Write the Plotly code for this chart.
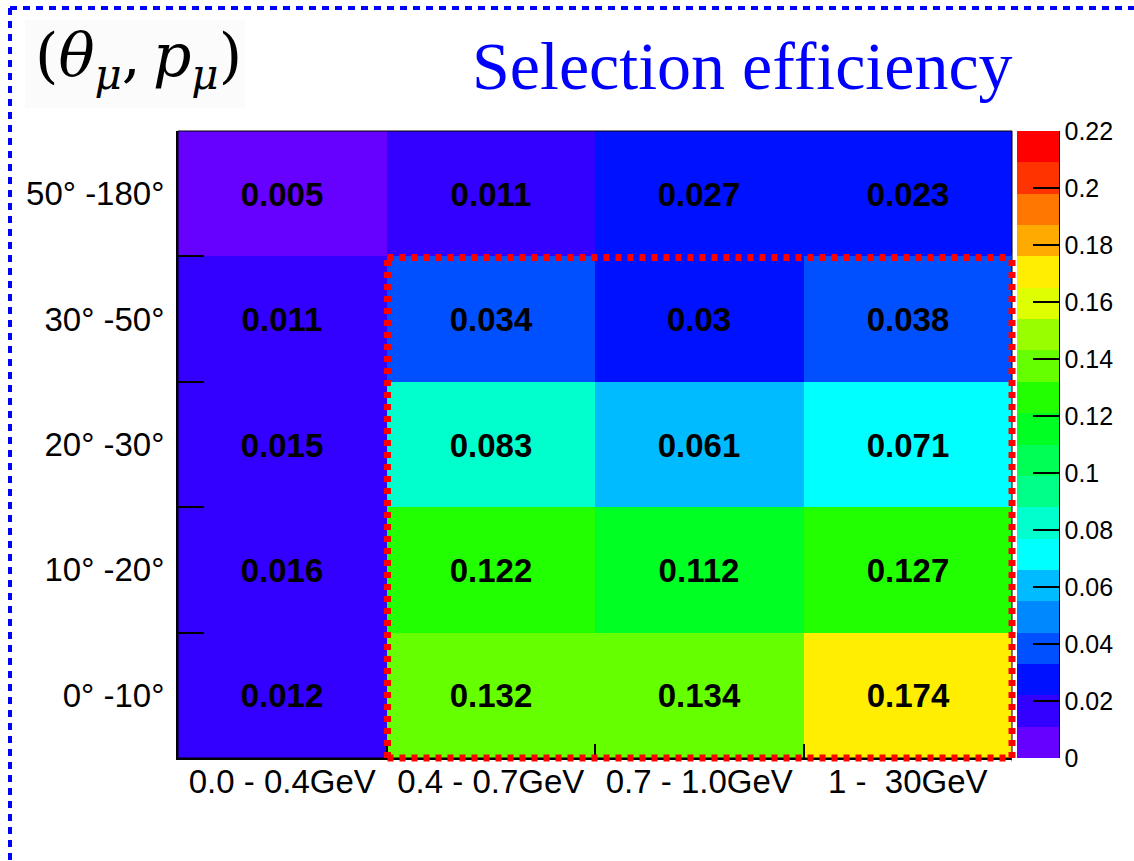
import plotly.graph_objects as go

# Muon momentum bins (columns) and polar-angle bins (rows, bottom to top)
p_bins = ["0.0 - 0.4GeV", "0.4 - 0.7GeV", "0.7 - 1.0GeV", "1 -\u00a0 30GeV"]
theta_bins = ["0° -10°", "10° -20°", "20° -30°", "30° -50°", "50° -180°"]

# Selection efficiency per (theta, p) bin, rows follow theta_bins
eff_0_10 = [0.012, 0.132, 0.134, 0.174]
eff_10_20 = [0.016, 0.122, 0.112, 0.127]
eff_20_30 = [0.015, 0.083, 0.061, 0.071]
eff_30_50 = [0.011, 0.034, 0.030, 0.038]
eff_50_180 = [0.005, 0.011, 0.027, 0.023]
z = [eff_0_10, eff_10_20, eff_20_30, eff_30_50, eff_50_180]

# Colour scale range and colour-bar ticks
z_min, z_max = 0.0, 0.22
cbar_ticks = [0, 0.02, 0.04, 0.06, 0.08, 0.1, 0.12, 0.14, 0.16, 0.18, 0.2, 0.22]

# 20 contour levels, rainbow palette from violet to red
palette = [
    "#6600FF", "#3300FF", "#0011FF", "#0050FF", "#0088FF",
    "#00BBFF", "#00FFFF", "#00FFCC", "#00FF88", "#00FF55",
    "#00FF22", "#22FF00", "#66FF00", "#99FF00", "#DDFF00",
    "#FFEE00", "#FFAA00", "#FF7700", "#FF3300", "#FF0000",
]
n = len(palette)
colorscale = []
for k, c in enumerate(palette):
    lo = k / n
    hi = (k + 1) / n - 1e-6 if k < n - 1 else 1.0
    colorscale.append([lo, c])
    colorscale.append([hi, c])

text = [[f"{v:g}" for v in row] for row in z]
xs = list(range(len(p_bins)))
ys = list(range(len(theta_bins)))

# plot-area geometry in pixels
W, H = 1134, 861
L, R, T, B = 178, 1012, 131, 758
pw, ph = R - L, B - T


def px(x):
    return (x - L) / pw


def py(y):
    return (B - y) / ph


fig = go.Figure(
    go.Heatmap(
        x=xs,
        y=ys,
        z=z,
        zmin=z_min,
        zmax=z_max,
        colorscale=colorscale,
        text=text,
        texttemplate="%{text}",
        textfont=dict(family="Liberation Sans", size=33, color="black", weight="bold"),
        hoverinfo="skip",
        colorbar=dict(
            thickness=42,
            thicknessmode="pixels",
            len=1,
            lenmode="fraction",
            x=px(1017),
            xanchor="left",
            xpad=0,
            y=0.5,
            yanchor="middle",
            ypad=0,
            outlinewidth=0,
            ticks="inside",
            ticklen=26,
            tickwidth=1.5,
            tickcolor="black",
            tickmode="array",
            tickvals=cbar_ticks,
            ticktext=[f"{t:g}" for t in cbar_ticks],
            tickfont=dict(family="Liberation Sans", size=25, color="black"),
        ),
    )
)

axis_font = dict(family="Liberation Sans", size=33, color="black")

fig.update_xaxes(
    range=[-0.5, len(p_bins) - 0.5],
    tickmode="array",
    tickvals=xs,
    ticktext=p_bins,
    ticks="",
    tickfont=axis_font,
    ticklabelstandoff=-7,
    showline=True,
    linecolor="black",
    linewidth=2,
    showgrid=False,
    zeroline=False,
    minor=dict(
        tickmode="array",
        tickvals=[x + 0.5 for x in xs[:-1]],
        ticks="inside",
        ticklen=14,
        tickwidth=1.5,
        tickcolor="black",
        showgrid=False,
    ),
)
fig.update_yaxes(
    range=[-0.5, len(theta_bins) - 0.5],
    tickmode="array",
    tickvals=ys,
    ticktext=theta_bins,
    ticks="",
    tickfont=axis_font,
    ticklabelstandoff=5,
    showline=True,
    linecolor="black",
    linewidth=2,
    showgrid=False,
    zeroline=False,
    minor=dict(
        tickmode="array",
        tickvals=[y + 0.5 for y in ys[:-1]],
        ticks="inside",
        ticklen=26,
        tickwidth=1.5,
        tickcolor="black",
        showgrid=False,
    ),
)

# highlighted region: p > 0.4 GeV and theta < 50 deg (momentum bins 1-3, angle bins 0-3),
# expressed as fractions of the plot area
nx, ny = len(p_bins), len(theta_bins)
hx0, hx1 = xs[1] / nx + 1 / pw, 1.0
hy0, hy1 = 0.0, (ys[3] + 1) / ny - 1 / ph
red_dash = dict(color="#FF0000", width=7, dash="6px,6px")

shapes = [
    # thin frame around the histogram
    dict(type="rect", xref="paper", yref="paper", x0=0, x1=1, y0=0, y1=1,
         line=dict(color="black", width=1), layer="above"),
    # right edge of the colour bar
    dict(type="line", xref="paper", yref="paper", x0=px(1059), x1=px(1059), y0=0, y1=1,
         line=dict(color="black", width=2)),
    # highlighted region outline
    dict(type="line", xref="paper", yref="paper", x0=hx0, x1=hx1, y0=hy1, y1=hy1, line=red_dash),
    dict(type="line", xref="paper", yref="paper", x0=hx0, x1=hx1, y0=hy0, y1=hy0, line=red_dash),
    dict(type="line", xref="paper", yref="paper", x0=hx0, x1=hx0, y0=hy0, y1=hy1, line=red_dash),
    dict(type="line", xref="paper", yref="paper", x0=hx1, x1=hx1, y0=hy0, y1=hy1, line=red_dash),
    # label background
    dict(type="rect", xref="paper", yref="paper", x0=px(25), x1=px(245), y0=py(108), y1=py(20),
         fillcolor="#fbfbfb", line=dict(width=0), layer="below"),
    # dashed page border (top and left)
    dict(type="line", xref="paper", yref="paper", x0=px(10), x1=px(W + 20), y0=py(8), y1=py(8),
         line=dict(color="#0000FF", width=4, dash="7px,6px")),
    dict(type="line", xref="paper", yref="paper", x0=px(10), x1=px(10), y0=py(8), y1=py(H + 20),
         line=dict(color="#0000FF", width=4, dash="7px,6px")),
]

annotations = [
    dict(text="Selection efficiency", xref="paper", yref="paper", x=px(470), y=py(66),
         xanchor="left", yanchor="middle", showarrow=False,
         font=dict(family="Liberation Serif", size=68, color="#0000FF")),
    dict(text="(<i>θ</i><sub><i>μ</i></sub>,\u2009<i>p</i><sub><i>μ</i></sub>)",
         xref="paper", yref="paper", x=px(33), y=py(60),
         xanchor="left", yanchor="middle", showarrow=False,
         font=dict(family="DejaVu Serif", size=60, color="black")),
]

fig.update_layout(
    width=W,
    height=H,
    margin=dict(l=L, r=W - R, t=T, b=H - B, pad=0, autoexpand=False),
    paper_bgcolor="white",
    plot_bgcolor="white",
    shapes=shapes,
    annotations=annotations,
    showlegend=False,
)

fig.write_html("out.html")
